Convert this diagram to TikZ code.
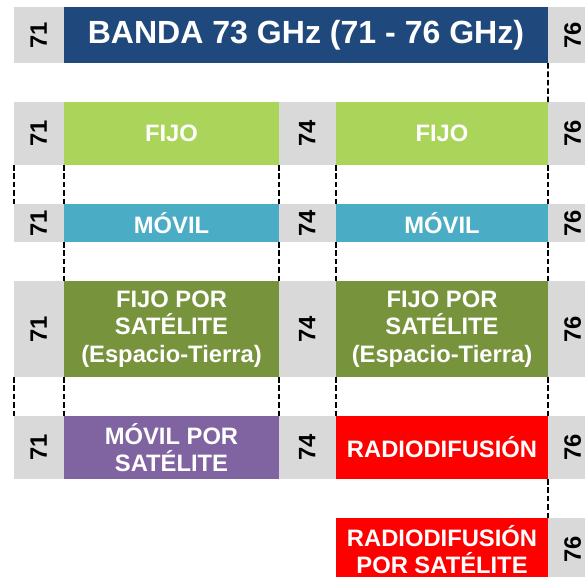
\documentclass[tikz,border=0pt]{standalone}
\usepackage{fontspec}
\setmainfont{Liberation Sans}
\usepackage{xcolor}
\usetikzlibrary{positioning}

\definecolor{bandablue}{HTML}{1F497D}
\definecolor{fijogreen}{HTML}{AAD45A}
\definecolor{movilteal}{HTML}{4BACC6}
\definecolor{satgreen}{HTML}{77933C}
\definecolor{satpurple}{HTML}{8064A2}
\definecolor{radiored}{HTML}{FF0000}

\begin{document}
\begin{tikzpicture}[font=\bfseries\fontsize{16.9}{19.4}\selectfont,
  cell/.style={inner sep=0pt, outer sep=0pt, align=center, text=white},
  freq/.style={inner sep=0pt, outer sep=0pt, fill=black!15, minimum width=1.25cm},
  num/.style={rotate=90, inner sep=0pt},
  dsh/.style={dashed, line width=1.2pt, dash pattern=on 4pt off 2pt}]
\clip (0,0) rectangle (14.625,-14.425);
% band header
\node[freq, minimum height=1.4cm] (t71) at (0.975,-0.875) {};
\node[cell, fill=bandablue, minimum width=12.1cm, minimum height=1.4cm, font=\bfseries\fontsize{22.8}{26}\selectfont] (banda) at (7.65,-0.875) {BANDA 73 GHz (71 - 76 GHz)};
\node[freq, minimum height=1.4cm] (t76) at (14.325,-0.875) {};
% fijo
\node[freq, minimum height=1.575cm] (f71) at (0.975,-3.3375) {};
\node[cell, fill=fijogreen, minimum width=5.375cm, minimum height=1.575cm] (fijoA) at (4.2875,-3.3375) {FIJO};
\node[freq, minimum width=1.425cm, minimum height=1.575cm] (f74) at (7.6875,-3.3375) {};
\node[cell, fill=fijogreen, minimum width=5.3cm, minimum height=1.575cm] (fijoB) at (11.05,-3.3375) {FIJO};
\node[freq, minimum height=1.575cm] (f76) at (14.325,-3.3375) {};
% movil
\node[freq, minimum height=0.95cm] (m71) at (0.975,-5.575) {};
\node[cell, fill=movilteal, minimum width=5.375cm, minimum height=0.95cm] (movA) at (4.2875,-5.575) {MÓVIL};
\node[freq, minimum width=1.425cm, minimum height=0.95cm] (m74) at (7.6875,-5.575) {};
\node[cell, fill=movilteal, minimum width=5.3cm, minimum height=0.95cm] (movB) at (11.05,-5.575) {MÓVIL};
\node[freq, minimum height=0.95cm] (m76) at (14.325,-5.575) {};
% fijo por satelite
\node[freq, minimum height=2.4cm] (s71) at (0.975,-8.225) {};
\node[cell, fill=satgreen, minimum width=5.375cm, minimum height=2.4cm] (fsA) at (4.2875,-8.225) {FIJO POR\\SATÉLITE\\(Espacio-Tierra)};
\node[freq, minimum width=1.425cm, minimum height=2.4cm] (s74) at (7.6875,-8.225) {};
\node[cell, fill=satgreen, minimum width=5.3cm, minimum height=2.4cm] (fsB) at (11.05,-8.225) {FIJO POR\\SATÉLITE\\(Espacio-Tierra)};
\node[freq, minimum height=2.4cm] (s76) at (14.325,-8.225) {};
% movil por satelite / radiodifusion
\node[freq, minimum height=1.575cm] (p71) at (0.975,-11.1875) {};
\node[cell, fill=satpurple, minimum width=5.375cm, minimum height=1.575cm] (msat) at (4.2875,-11.1875) {MÓVIL POR\\SATÉLITE};
\node[freq, minimum width=1.425cm, minimum height=1.575cm] (p74) at (7.6875,-11.1875) {};
\node[cell, fill=radiored, minimum width=5.3cm, minimum height=1.575cm] (radio) at (11.05,-11.1875) {RADIODIFUSIÓN};
\node[freq, minimum height=1.575cm] (p76) at (14.325,-11.1875) {};
% radiodifusion por satelite
\node[cell, fill=radiored, minimum width=5.3cm, minimum height=1.575cm] (rsat) at (11.05,-13.7375) {RADIODIFUSIÓN\\POR SATÉLITE};
\node[freq, minimum height=1.575cm] (r76) at (14.325,-13.7375) {};
% frequency numbers
\foreach \b/\t in {t71/71, f71/71, m71/71, s71/71, p71/71,
                   f74/74, m74/74, s74/74, p74/74,
                   t76/76, f76/76, m76/76, s76/76, p76/76, r76/76}
  \node[num] (n\b) at ([xshift=-0.01cm]\b.center) {\t};
% dashed guides
\draw[dsh] (banda.south east) -- (fijoB.north east);
\draw[dsh] (f71.south west) -- (m71.north west);
\draw[dsh] (s71.south west) -- (p71.north west);
\foreach \u/\l in {fijoA/movA, fijoB/movB, movA/fsA, movB/fsB, fsA/msat, fsB/radio} {
  \draw[dsh] (\u.south west) -- (\l.north west);
  \draw[dsh] (\u.south east) -- (\l.north east);
}
\draw[dsh] (radio.south east) -- (rsat.north east);
\end{tikzpicture}
\end{document}
